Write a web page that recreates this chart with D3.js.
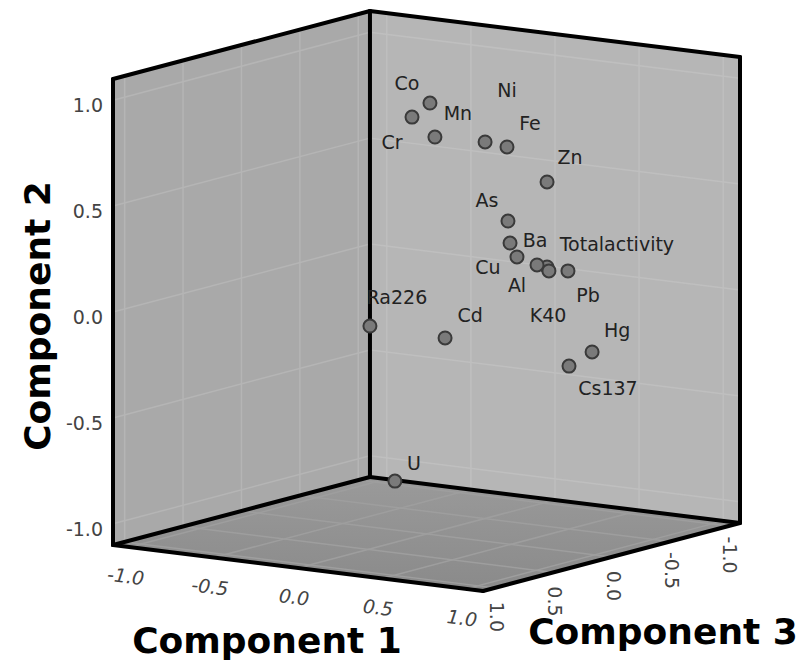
<!DOCTYPE html>
<html>
<head>
<meta charset="utf-8">
<script src="https://cdn.jsdelivr.net/npm/d3@7"></script>
<style>
  html, body { margin: 0; padding: 0; background: #fff; }
  svg { display: block; }
</style>
</head>
<body>
<svg id="chart" width="807" height="668"></svg>
<script>
// ---- data ----
const variables = ["Co","Cr","Mn","Ni","Fe","Zn","As","Ba","Cu","Al","K40","Totalactivity","Pb","Ra226","Cd","Hg","Cs137","U"];
const comp1 = [0.090, 0.018, 0.189, 0.383, 0.548, 0.682, 0.658, 0.705, 0.781, 0.796, 0.786, 0.832, 0.841, -0.128, 0.284, 0.915, 0.882, 0.090];
const comp2 = [0.958, 0.892, 0.822, 0.796, 0.796, 0.622, 0.479, 0.387, 0.336, 0.278, 0.253, 0.246, 0.225, -0.087, -0.110, -0.165, -0.213, -0.783];
const comp3 = [0.10, 0.15, 0.20, 0.05, 0.10, -0.05, 0.25, 0.30, 0.35, 0.20, 0.10, 0.15, 0.00, 0.30, 0.25, -0.10, 0.05, 0.40];
const tickValues = [-1, -0.5, 0, 0.5, 1];
const tickLabels = ["-1.0", "-0.5", "0.0", "0.5", "1.0"];
const axisTitles = ["Component 1", "Component 2", "Component 3"];

// label placement (pixel offsets from each marker)
const labelOffsets = [[-23,-20],[-20,25],[23,-24],[22,-52],[23,-24],[23,-25],[-21,-21],[25,-3],[-29,10],[-20,20],[1,48],[68,-27],[20,24],[27,-29],[25,-23],[25,-22],[39,22],[19,-18]];

// ---- projection (oblique/orthographic box) ----
const R = 1.1;
const cx = 426.5, cy = 301;
const s1x = d3.scaleLinear().domain([-R, R]).range([-R*168.2, R*168.2]);
const s1y = d3.scaleLinear().domain([-R, R]).range([-R*20.9, R*20.9]);
const s2y = d3.scaleLinear().domain([-R, R]).range([R*211.8, -R*211.8]);
const s3x = d3.scaleLinear().domain([-R, R]).range([R*116.8, -R*116.8]);
const s3y = d3.scaleLinear().domain([-R, R]).range([-R*30.9, R*30.9]);
function P(a, b, c) { return [cx + s1x(a) + s3x(c), cy + s1y(a) + s2y(b) + s3y(c)]; }

const svg = d3.select("#chart");
svg.append("rect").attr("width", 807).attr("height", 668).attr("fill", "#fff");

const poly = pts => "M" + pts.map(p => p.join(",")).join("L") + "Z";
const line = d3.line();

// walls
const leftWall = [P(-R,-R,-R), P(-R,-R,R), P(-R,R,R), P(-R,R,-R)];
const rightWall = [P(-R,-R,-R), P(R,-R,-R), P(R,R,-R), P(-R,R,-R)];
const floor = [P(-R,-R,-R), P(-R,-R,R), P(R,-R,R), P(R,-R,-R)];

const defs = svg.append("defs");
const fg = defs.append("linearGradient").attr("id","floorG").attr("x1","0").attr("y1","0").attr("x2","0").attr("y2","1");
fg.append("stop").attr("offset","0").attr("stop-color","#9a9a9a");
fg.append("stop").attr("offset","1").attr("stop-color","#8a8a8a");

svg.append("path").attr("d", poly(leftWall)).attr("fill", "#a9a9a9");
svg.append("path").attr("d", poly(rightWall)).attr("fill", "#b6b6b6");
svg.append("path").attr("d", poly(floor)).attr("fill", "url(#floorG)");

// gridlines
const grid = svg.append("g").attr("fill","none").attr("stroke-width",1.5);
tickValues.forEach(t => {
  grid.append("path").attr("stroke","#b5b5b5").attr("d", line([P(-R,-R,t), P(-R,R,t)]));
  grid.append("path").attr("stroke","#b5b5b5").attr("d", line([P(-R,t,-R), P(-R,t,R)]));
  grid.append("path").attr("stroke","#bfbfbf").attr("d", line([P(t,-R,-R), P(t,R,-R)]));
  grid.append("path").attr("stroke","#bfbfbf").attr("d", line([P(-R,t,-R), P(R,t,-R)]));
  grid.append("path").attr("stroke","#9e9e9e").attr("d", line([P(t,-R,-R), P(t,-R,R)]));
  grid.append("path").attr("stroke","#9e9e9e").attr("d", line([P(-R,-R,t), P(R,-R,t)]));
});

// box edges
const edges = [
  [P(-R,-R,R), P(-R,R,R)],
  [P(-R,R,R), P(-R,R,-R)],
  [P(-R,R,-R), P(-R,-R,-R)],
  [P(-R,R,-R), P(R,R,-R)],
  [P(R,R,-R), P(R,-R,-R)],
  [P(-R,-R,-R), P(-R,-R,R)],
  [P(-R,-R,-R), P(R,-R,-R)],
  [P(-R,-R,R), P(R,-R,R)],
  [P(R,-R,R), P(R,-R,-R)]
];
svg.append("g").selectAll("path").data(edges).join("path")
  .attr("d", d => line(d)).attr("fill","none").attr("stroke","#000")
  .attr("stroke-width", 4).attr("stroke-linecap","round").attr("stroke-linejoin","round");

// ticks on axes
const tickG = svg.append("g").attr("font-family","'DejaVu Sans', sans-serif").attr("font-size",19).attr("fill","#444");
tickValues.forEach((t, i) => {
  const p2 = P(-R, t, R);
  tickG.append("text").attr("x", p2[0] - 10).attr("y", p2[1] + 5)
    .attr("text-anchor","end").attr("dominant-baseline","central").text(tickLabels[i]);
  const p1 = P(t, -R, R);
  tickG.append("text").attr("transform", `translate(${p1[0]-4},${p1[1]+29}) rotate(7)`)
    .attr("font-style","italic").attr("text-anchor","middle").attr("dominant-baseline","central").text(tickLabels[i]);
  const p3 = P(R, -R, t);
  tickG.append("text").attr("transform", `translate(${p3[0]+2},${p3[1]+29}) rotate(90)`)
    .attr("text-anchor","middle").attr("dominant-baseline","central").text(tickLabels[i]);
});

// axis titles
const titleG = svg.append("g").attr("font-family","'DejaVu Sans', sans-serif").attr("font-weight","bold").attr("font-size",36).attr("fill","#000");
titleG.append("text").attr("x", 267).attr("y", 653).attr("text-anchor","middle").text(axisTitles[0]);
titleG.append("text").attr("transform","translate(50,316) rotate(-90)").attr("text-anchor","middle").text(axisTitles[1]);
titleG.append("text").attr("x", 663).attr("y", 644).attr("text-anchor","middle").text(axisTitles[2]);

// points
const pts = variables.map((v, i) => ({ name: v, a: comp1[i], b: comp2[i], c: comp3[i], off: labelOffsets[i] }));
const sorted = pts.slice().sort((p, q) => (p.a + p.c) - (q.a + q.c));
svg.append("g").selectAll("circle").data(sorted).join("circle")
  .attr("cx", d => P(d.a, d.b, d.c)[0]).attr("cy", d => P(d.a, d.b, d.c)[1])
  .attr("r", 6.5).attr("fill", "#7a7a7a").attr("stroke", "#3a3a3a").attr("stroke-width", 2);

svg.append("g").attr("font-family","'DejaVu Sans', sans-serif").attr("font-size",19).attr("fill","#222")
  .selectAll("text").data(pts).join("text")
  .attr("x", d => P(d.a, d.b, d.c)[0] + d.off[0]).attr("y", d => P(d.a, d.b, d.c)[1] + d.off[1])
  .attr("text-anchor","middle").attr("dominant-baseline","central").text(d => d.name);
</script>
</body>
</html>
